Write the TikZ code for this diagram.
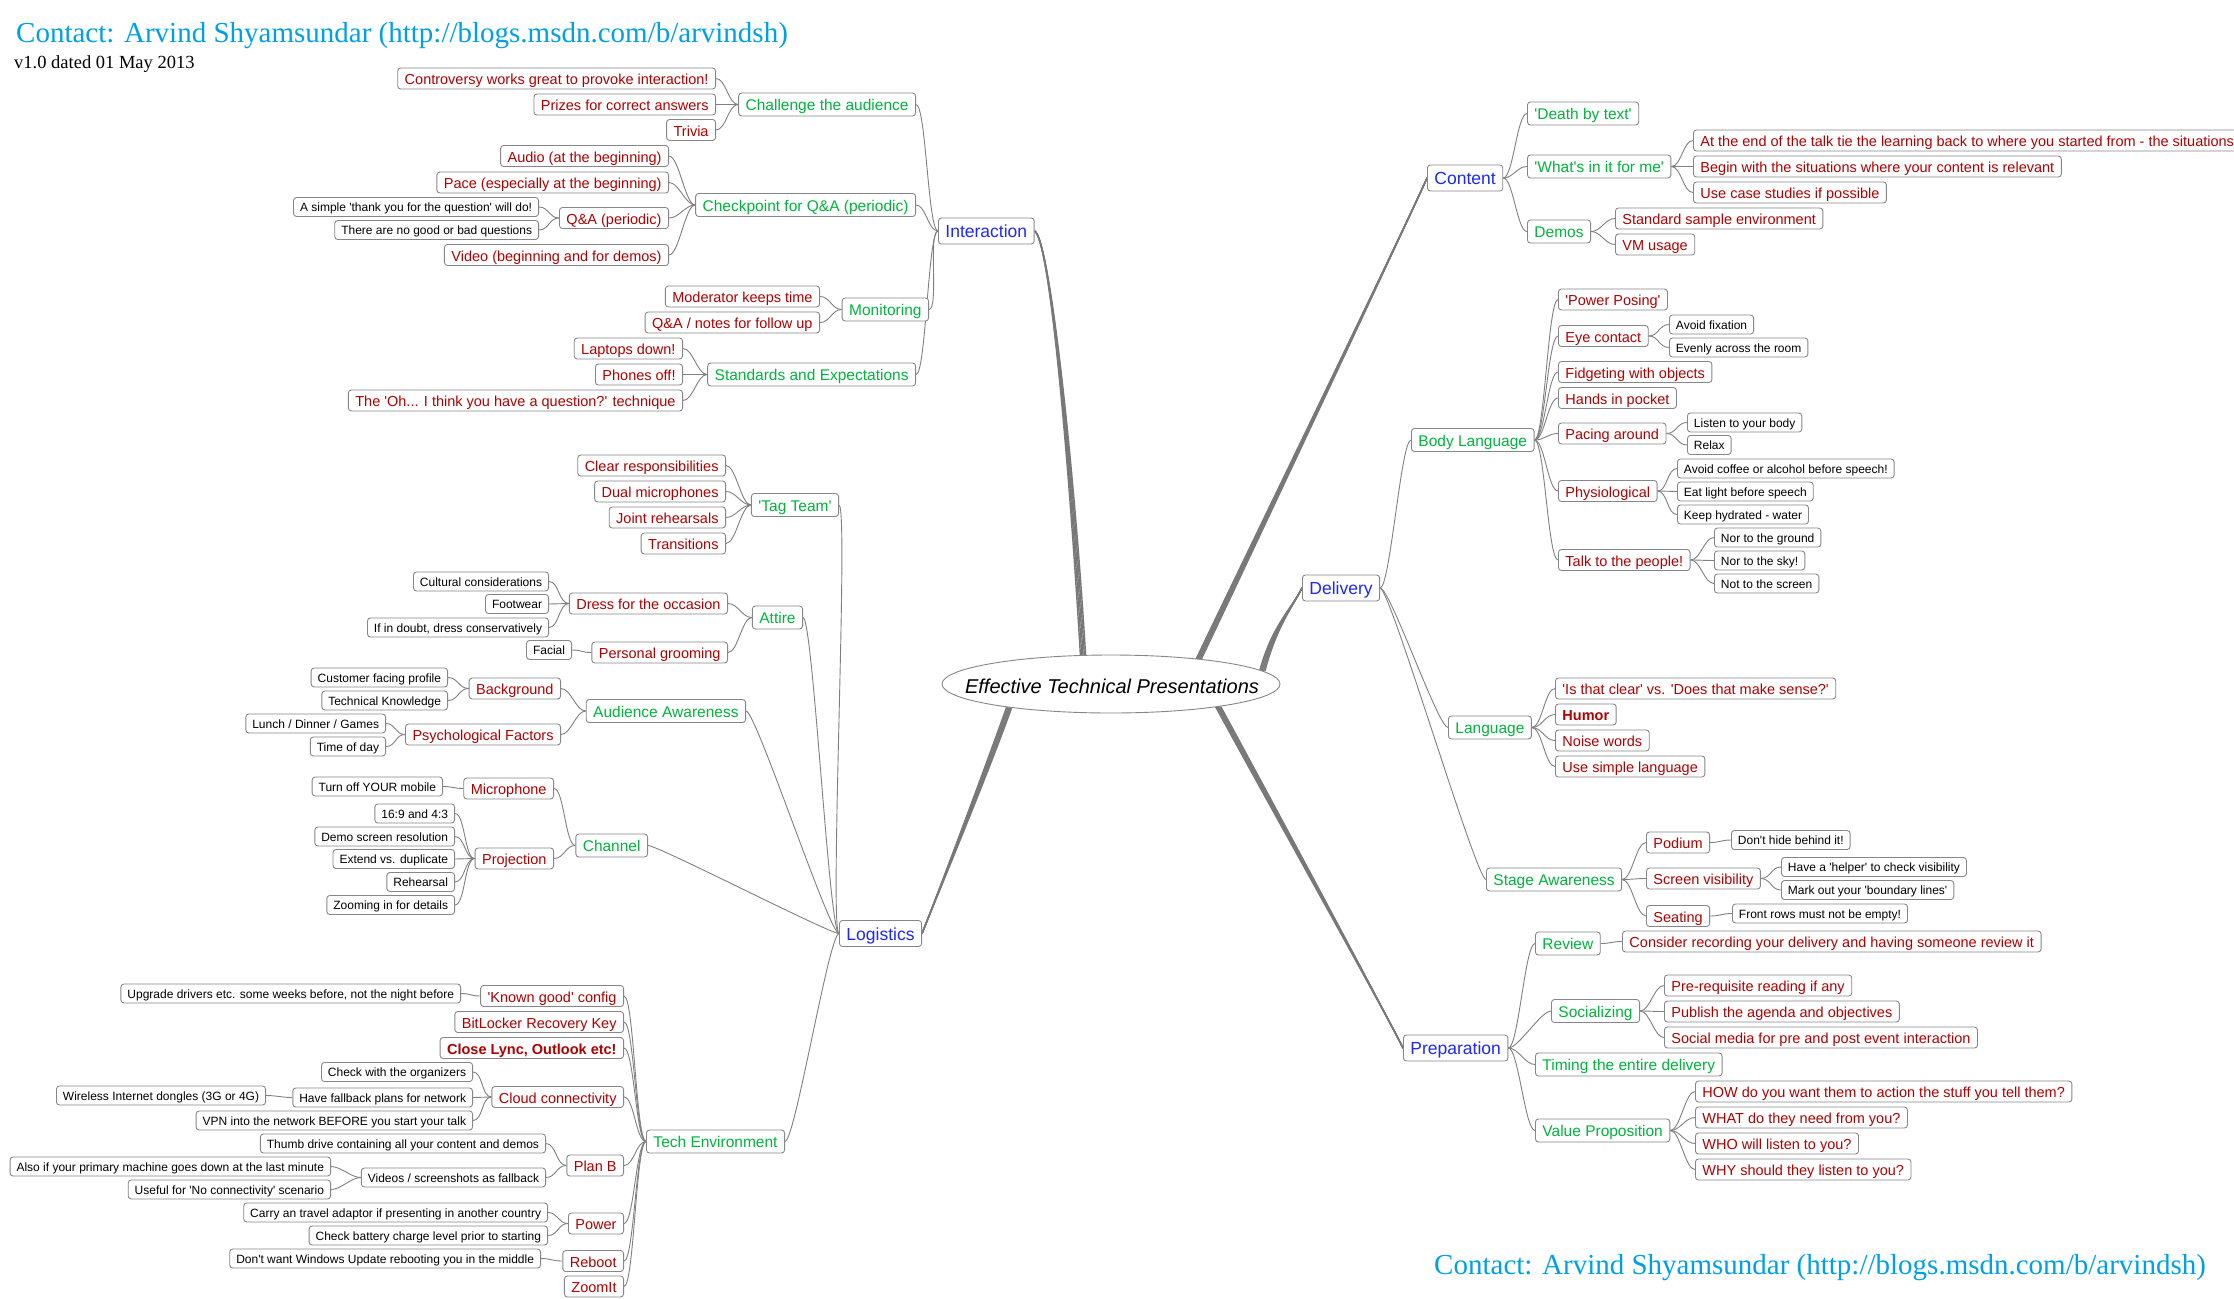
\documentclass[tikz,border=0pt]{standalone}
\usepackage{fontspec}
\setmainfont{Liberation Sans}[Ligatures=TeXOff]
\newfontfamily\titleserif{Liberation Serif}[Ligatures=TeXOff]
\usetikzlibrary{shapes.geometric}
\pgfdeclarelayer{back}
\pgfsetlayers{back,main}

\definecolor{mblue}{RGB}{30,40,250}
\definecolor{mgreen}{RGB}{0,180,60}
\definecolor{mred}{RGB}{175,0,0}
\definecolor{boxgray}{RGB}{135,135,135}
\definecolor{linkgray}{RGB}{128,128,128}
\definecolor{trunkgray}{RGB}{120,120,120}
\definecolor{titlecyan}{RGB}{0,160,230}

\tikzset{
  mbox/.style={draw=boxgray, fill=white, rounded corners=3pt, line width=0.9pt, inner xsep=7pt},
  lblue/.style={mbox, text=mblue, font=\fontsize{17.5}{20}\selectfont, text height=15pt, text depth=2pt, inner ysep=4.5pt},
  lgreen/.style={mbox, text=mgreen, font=\fontsize{15.5}{18}\selectfont, text height=14pt, text depth=1.5pt, inner ysep=3.75pt},
  lred/.style={mbox, text=mred, font=\fontsize{14.5}{17}\selectfont, text height=13pt, text depth=1pt, inner ysep=3.5pt},
  lblack/.style={mbox, text=black, font=\fontsize{12}{14}\selectfont, text height=10.5pt, text depth=1.5pt, inner ysep=3.5pt, inner xsep=6.5pt},
  lf/.style={anchor=east},
  rt/.style={anchor=west},
  link/.style={draw=linkgray, line width=0.9pt},
  trunk/.style={draw=trunkgray, line width=1.4pt, line cap=round},
}

\begin{document}
\begin{tikzpicture}[x=1pt,y=-1pt]
\useasboundingbox (0,0) rectangle (2234,1298);
\begin{pgfonlayer}{back}
  \fill[white] (0,0) rectangle (2234,1298);
\end{pgfonlayer}

% headings
\node[anchor=base west, inner sep=0pt, text=titlecyan, font=\titleserif\fontsize{29}{33}\selectfont] (contact1) at (16,42.5) {Contact: Arvind Shyamsundar (http://blogs.msdn.com/b/arvindsh)};
\node[anchor=base west, inner sep=0pt, text=black, font=\titleserif\fontsize{18.5}{22}\selectfont] (version) at (14,69) {v1.0 dated 01 May 2013};
\node[anchor=base west, inner sep=0pt, text=titlecyan, font=\titleserif\fontsize{29}{33}\selectfont] (contact2) at (1434,1274.5) {Contact: Arvind Shyamsundar (http://blogs.msdn.com/b/arvindsh)};

% central topic
\node[ellipse, draw=boxgray, fill=white, line width=0.9pt, minimum width=338pt, minimum height=58pt, inner sep=0pt] (ctr) at (1111,684) {};
\node[inner sep=0pt, font=\itshape\fontsize{20}{24}\selectfont] (ctrtext) at (1112,686) {Effective Technical Presentations};

% ---------------- Interaction ----------------
\node[lblue,rt] (inter) at (938,231) {Interaction};
\node[lgreen,lf] (chal) at (916,104.5) {Challenge the audience};
\node[lgreen,lf] (chk) at (916,205) {Checkpoint for Q\&A (periodic)};
\node[lgreen,lf] (mon) at (929,309.5) {Monitoring};
\node[lgreen,lf] (std) at (916,374.5) {Standards and Expectations};
\node[lred,lf] (c1) at (716,78.5) {Controversy works great to provoke interaction!};
\node[lred,lf] (c2) at (716,104.5) {Prizes for correct answers};
\node[lred,lf] (c3) at (716,130) {Trivia};
\node[lred,lf] (q1) at (669,156) {Audio (at the beginning)};
\node[lred,lf] (q2) at (669,182.5) {Pace (especially at the beginning)};
\node[lred,lf] (q3) at (669,218) {Q\&A (periodic)};
\node[lred,lf] (q4) at (669,255) {Video (beginning and for demos)};
\node[lblack,lf] (q3a) at (539,207) {A simple 'thank you for the question' will do!};
\node[lblack,lf] (q3b) at (539,230) {There are no good or bad questions};
\node[lred,lf] (m1) at (820,296.5) {Moderator keeps time};
\node[lred,lf] (m2) at (820,322.5) {Q\&A / notes for follow up};
\node[lred,lf] (s1) at (683,348.5) {Laptops down!};
\node[lred,lf] (s2) at (683,374.5) {Phones off!};
\node[lred,lf] (s3) at (683,400.5) {The 'Oh... I think you have a question?' technique};

% ---------------- Logistics ----------------
\node[lblue,lf] (logi) at (922,933.5) {Logistics};
\node[lgreen,lf] (tag) at (839,505) {'Tag Team'};
\node[lgreen,lf] (att) at (803,617.5) {Attire};
\node[lgreen,lf] (aud) at (746,711) {Audience Awareness};
\node[lgreen,lf] (chan) at (648,845.5) {Channel};
\node[lgreen,lf] (tech) at (785,1141.5) {Tech Environment};

\node[lred,lf] (t1) at (726,465.5) {Clear responsibilities};
\node[lred,lf] (t2) at (726,491.5) {Dual microphones};
\node[lred,lf] (t3) at (726,517.5) {Joint rehearsals};
\node[lred,lf] (t4) at (726,543.5) {Transitions};

\node[lred,lf] (a1) at (728,603.5) {Dress for the occasion};
\node[lred,lf] (a2) at (728,652.5) {Personal grooming};
\node[lblack,lf] (a1a) at (549,581.5) {Cultural considerations};
\node[lblack,lf] (a1b) at (549,604) {Footwear};
\node[lblack,lf] (a1c) at (549,627.5) {If in doubt, dress conservatively};
\node[lblack,lf] (a2a) at (572,650) {Facial};

\node[lred,lf] (b1) at (561,688.5) {Background};
\node[lred,lf] (b2) at (561,734.5) {Psychological Factors};
\node[lblack,lf] (b1a) at (448,677.5) {Customer facing profile};
\node[lblack,lf] (b1b) at (448,700.5) {Technical Knowledge};
\node[lblack,lf] (b2a) at (386,723.5) {Lunch / Dinner / Games};
\node[lblack,lf] (b2b) at (386,746.5) {Time of day};

\node[lred,lf] (ch1) at (554,788.5) {Microphone};
\node[lred,lf] (ch2) at (554,858.5) {Projection};
\node[lblack,lf] (ch1a) at (443,786.5) {Turn off YOUR mobile};
\node[lblack,lf] (ch2a) at (455,813.5) {16:9 and 4:3};
\node[lblack,lf] (ch2b) at (455,836.5) {Demo screen resolution};
\node[lblack,lf] (ch2c) at (455,859) {Extend vs. duplicate};
\node[lblack,lf] (ch2d) at (455,882) {Rehearsal};
\node[lblack,lf] (ch2e) at (455,905) {Zooming in for details};

\node[lred,lf] (e1) at (624,996) {'Known good' config};
\node[lred,lf] (e2) at (624,1022) {BitLocker Recovery Key};
\node[lred,lf,font=\bfseries\fontsize{14.5}{17}\selectfont] (e3) at (624,1048) {Close Lync, Outlook etc!};
\node[lred,lf] (e4) at (624,1097) {Cloud connectivity};
\node[lred,lf] (e5) at (624,1165.5) {Plan B};
\node[lred,lf] (e6) at (624,1223.5) {Power};
\node[lred,lf] (e7) at (624,1261) {Reboot};
\node[lred,lf] (e8) at (624,1286.5) {ZoomIt};
\node[lblack,lf] (e1a) at (461,993.5) {Upgrade drivers etc. some weeks before, not the night before};
\node[lblack,lf] (e4a) at (473,1072) {Check with the organizers};
\node[lblack,lf] (e4b) at (473,1097.5) {Have fallback plans for network};
\node[lblack,lf] (e4b1) at (266,1095.5) {Wireless Internet dongles (3G or 4G)};
\node[lblack,lf] (e4c) at (473,1120.5) {VPN into the network BEFORE you start your talk};
\node[lblack,lf] (e5a) at (546,1143.5) {Thumb drive containing all your content and demos};
\node[lblack,lf] (e5b) at (546,1177.5) {Videos / screenshots as fallback};
\node[lblack,lf] (e5b1) at (331,1166.5) {Also if your primary machine goes down at the last minute};
\node[lblack,lf] (e5b2) at (331,1189.5) {Useful for 'No connectivity' scenario};
\node[lblack,lf] (e6a) at (548,1212.5) {Carry an travel adaptor if presenting in another country};
\node[lblack,lf] (e6b) at (548,1235.5) {Check battery charge level prior to starting};
\node[lblack,lf] (e7a) at (541,1258.5) {Don't want Windows Update rebooting you in the middle};

% ---------------- Content ----------------
\node[lblue,rt] (cont) at (1427,178) {Content};
\node[lgreen,rt] (d1) at (1527,113.5) {'Death by text'};
\node[lgreen,rt] (d2) at (1527,166.5) {'What's in it for me'};
\node[lgreen,rt] (d3) at (1527,231.5) {Demos};
\node[lred,rt] (d2a) at (1693,140.5) {At the end of the talk tie the learning back to where you started from - the situations};
\node[lred,rt] (d2b) at (1693,166.5) {Begin with the situations where your content is relevant};
\node[lred,rt] (d2c) at (1693,192.5) {Use case studies if possible};
\node[lred,rt] (d3a) at (1615,218.5) {Standard sample environment};
\node[lred,rt] (d3b) at (1615,244.5) {VM usage};

% ---------------- Delivery ----------------
\node[lblue,rt] (deli) at (1302,588) {Delivery};
\node[lgreen,rt] (body) at (1411,440) {Body Language};
\node[lgreen,rt] (lang) at (1448,727.5) {Language};
\node[lgreen,rt] (stage) at (1486,879.5) {Stage Awareness};

\node[lred,rt] (bl1) at (1558,299.5) {'Power Posing'};
\node[lred,rt] (bl2) at (1558,336) {Eye contact};
\node[lred,rt] (bl3) at (1558,372) {Fidgeting with objects};
\node[lred,rt] (bl4) at (1558,398) {Hands in pocket};
\node[lred,rt] (bl5) at (1558,433.5) {Pacing around};
\node[lred,rt] (bl6) at (1558,491) {Physiological};
\node[lred,rt] (bl7) at (1558,560) {Talk to the people!};
\node[lblack,rt] (bl2a) at (1669,324.5) {Avoid fixation};
\node[lblack,rt] (bl2b) at (1669,347.5) {Evenly across the room};
\node[lblack,rt] (bl5a) at (1687,422.5) {Listen to your body};
\node[lblack,rt] (bl5b) at (1687,445) {Relax};
\node[lblack,rt] (bl6a) at (1677,468.5) {Avoid coffee or alcohol before speech!};
\node[lblack,rt] (bl6b) at (1677,491.5) {Eat light before speech};
\node[lblack,rt] (bl6c) at (1677,514.5) {Keep hydrated - water};
\node[lblack,rt] (bl7a) at (1714,537.5) {Nor to the ground};
\node[lblack,rt] (bl7b) at (1714,560.5) {Nor to the sky!};
\node[lblack,rt] (bl7c) at (1714,583.5) {Not to the screen};

\node[lred,rt] (la1) at (1555,688.5) {'Is that clear' vs. 'Does that make sense?'};
\node[lred,rt,font=\bfseries\fontsize{14.5}{17}\selectfont] (la2) at (1555,714.5) {Humor};
\node[lred,rt] (la3) at (1555,740.5) {Noise words};
\node[lred,rt] (la4) at (1555,766.5) {Use simple language};

\node[lred,rt] (sa1) at (1646,842.5) {Podium};
\node[lred,rt] (sa2) at (1646,878.5) {Screen visibility};
\node[lred,rt] (sa3) at (1646,916) {Seating};
\node[lblack,rt] (sa1a) at (1731,840) {Don't hide behind it!};
\node[lblack,rt] (sa2a) at (1781,867) {Have a 'helper' to check visibility};
\node[lblack,rt] (sa2b) at (1781,890) {Mark out your 'boundary lines'};
\node[lblack,rt] (sa3a) at (1732,913.5) {Front rows must not be empty!};

% ---------------- Preparation ----------------
\node[lblue,rt] (prep) at (1403,1048) {Preparation};
\node[lgreen,rt] (p1) at (1535,943.5) {Review};
\node[lgreen,rt] (p2) at (1551,1011) {Socializing};
\node[lgreen,rt] (p3) at (1535,1064.5) {Timing the entire delivery};
\node[lgreen,rt] (p4) at (1535,1130.5) {Value Proposition};
\node[lred,rt] (p1a) at (1622,941.5) {Consider recording your delivery and having someone review it};
\node[lred,rt] (p2a) at (1664,985.5) {Pre-requisite reading if any};
\node[lred,rt] (p2b) at (1664,1011.5) {Publish the agenda and objectives};
\node[lred,rt] (p2c) at (1664,1037.5) {Social media for pre and post event interaction};
\node[lred,rt] (p4a) at (1695,1091.5) {HOW do you want them to action the stuff you tell them?};
\node[lred,rt] (p4b) at (1695,1117.5) {WHAT do they need from you?};
\node[lred,rt] (p4c) at (1695,1143.5) {WHO will listen to you?};
\node[lred,rt] (p4d) at (1695,1169.5) {WHY should they listen to you?};

% ---------------- connectors ----------------
\begin{pgfonlayer}{back}
  % main branches: bundles of strands tapering from the central topic
  \foreach \o in {-2.6,-1.3,0,1.3,2.6} {
    \draw[trunk] ([xshift=\o pt]ctr.134) .. controls +(-10,-170) and +(16,9) .. (inter.east);
    \draw[trunk] ([xshift=\o pt]ctr.16) .. controls +(43,-90) and +(-20,45) .. (cont.west);
    \draw[trunk] ([xshift=\o pt]ctr.5.3) .. controls +(12,-45) and +(-10,20) .. (deli.west);
    \draw[trunk] ([xshift=\o pt]ctr.-167) .. controls +(-25,70) and +(12,-30) .. (logi.east);
    \draw[trunk] ([xshift=\o pt]ctr.-12.6) .. controls +(50,92) and +(-20,-40) .. (prep.west);
  }
  % sub-topics on the left hand side
  \foreach \c/\p in {c1/chal,c2/chal,c3/chal,q3a/q3,q3b/q3,q1/chk,q2/chk,q3/chk,q4/chk,
      m1/mon,m2/mon,s1/std,s2/std,s3/std,chal/inter,chk/inter,mon/inter,std/inter,
      t1/tag,t2/tag,t3/tag,t4/tag,a1a/a1,a1b/a1,a1c/a1,a2a/a2,a1/att,a2/att,
      b1a/b1,b1b/b1,b2a/b2,b2b/b2,b1/aud,b2/aud,
      ch1a/ch1,ch2a/ch2,ch2b/ch2,ch2c/ch2,ch2d/ch2,ch2e/ch2,ch1/chan,ch2/chan,
      e1a/e1,e4a/e4,e4b1/e4b,e4b/e4,e4c/e4,e5a/e5,e5b1/e5b,e5b2/e5b,e5b/e5,
      e6a/e6,e6b/e6,e7a/e7,
      e1/tech,e2/tech,e3/tech,e4/tech,e5/tech,e6/tech,e7/tech,e8/tech,
      tag/logi,att/logi,aud/logi,chan/logi,tech/logi}
    \draw[link] (\c.east) .. controls +(10,0) and +(-10,0) .. (\p.west);
  % sub-topics on the right hand side
  \foreach \p/\c in {cont/d1,cont/d2,cont/d3,d2/d2a,d2/d2b,d2/d2c,d3/d3a,d3/d3b,
      deli/body,deli/lang,deli/stage,
      body/bl1,body/bl2,body/bl3,body/bl4,body/bl5,body/bl6,body/bl7,
      bl2/bl2a,bl2/bl2b,bl5/bl5a,bl5/bl5b,bl6/bl6a,bl6/bl6b,bl6/bl6c,
      bl7/bl7a,bl7/bl7b,bl7/bl7c,
      lang/la1,lang/la2,lang/la3,lang/la4,
      stage/sa1,stage/sa2,stage/sa3,sa1/sa1a,sa2/sa2a,sa2/sa2b,sa3/sa3a,
      prep/p1,prep/p2,prep/p3,prep/p4,p1/p1a,p2/p2a,p2/p2b,p2/p2c,
      p4/p4a,p4/p4b,p4/p4c,p4/p4d}
    \draw[link] (\p.east) .. controls +(10,0) and +(-10,0) .. (\c.west);
\end{pgfonlayer}
\end{tikzpicture}
\end{document}
